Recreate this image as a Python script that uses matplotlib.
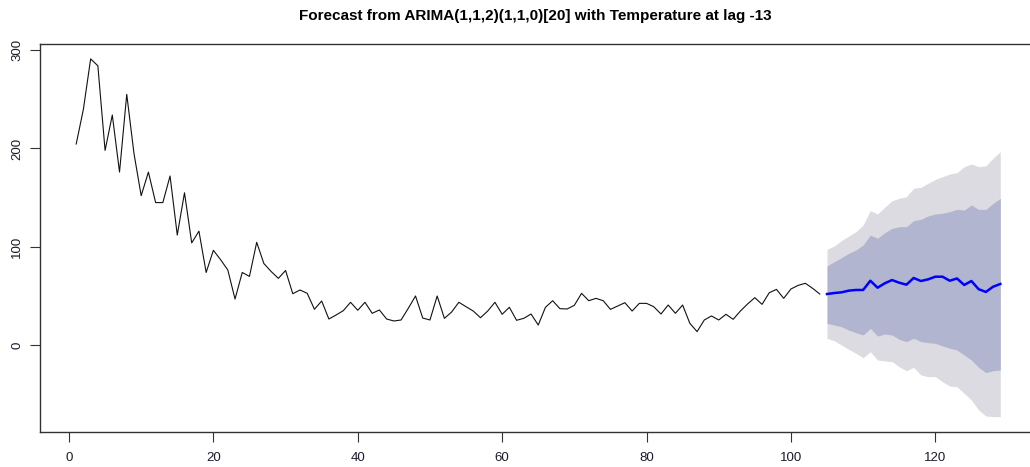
import numpy as np
import matplotlib
matplotlib.use("Agg")
import matplotlib.pyplot as plt

# Serie observada (t = 1..104)
observed = [204.5, 240, 291, 284, 198, 234, 176, 255, 195, 152,
            176, 145, 145, 172, 112, 155, 104, 116, 74, 96.5,
            87, 76.5, 47, 74, 70, 104.6, 83, 75, 68, 76,
            52.4, 56.2, 52.8, 36.6, 45, 26.7, 30.8, 35.2, 43.7, 35.6,
            43.7, 32.5, 35.9, 26.7, 24.7, 25.7, 37.6, 50.1, 27.7, 25.7,
            50.1, 27.4, 33.8, 43.7, 39.2, 34.8, 28, 34.8, 43.7, 31.5,
            38.6, 25.4, 27.4, 31.8, 20.6, 38.6, 45.3, 37.2, 36.9, 40.6,
            52.8, 45.3, 47.7, 45.3, 36.5, 39.9, 43.3, 34.8, 42.6, 42.6,
            39.2, 31.8, 40.9, 32.5, 40.9, 22.3, 13.9, 25.7, 29.8, 25.7,
            31.5, 26.4, 34.8, 42, 48.4, 41.6, 53.4, 56.8, 47.7, 57.2,
            60.9, 63, 57.9, 52.1]

# Pronóstico (t = 105..129)
fc_mean = [52.1, 53.1, 53.8, 55.5, 56.2, 56.2, 65.6, 58.5, 63, 66.3,
           63.6, 61.6, 68.4, 65.3, 67, 69.7, 69.7, 65.6, 67.9, 61.3,
           65.3, 57, 54.2, 59.5, 62.3]
hi80 = [80.6, 84.9, 89, 93.4, 96.8, 101.9, 112, 108.7, 114.4, 118.8,
        120.5, 120.5, 126.6, 128, 131.4, 133.4, 134.1, 135.8, 138.1, 137.4,
        142.5, 138.1, 138.1, 144.2, 149.3]
lo80 = [22.3, 20.6, 18.9, 15.5, 12.8, 10.5, 17.2, 9.4, 11.5, 10.5,
        6.1, 3.7, 7.1, 3.7, 2.7, 2, -0.7, -3, -4.8, -9.8,
        -14.9, -22.4, -27.8, -25.8, -25.1]
hi95 = [97.5, 100.9, 106.3, 111, 115.4, 122.2, 136.8, 133.4, 140.2, 146.9,
        149.3, 151, 159.5, 160.5, 164.6, 168.6, 171.3, 174, 175.4, 181.5,
        184.2, 181.5, 182.3, 190, 196.7]
lo95 = [7.1, 4.7, 0.3, -4.1, -8.1, -12.6, -6.5, -14.9, -15.9, -16.6,
        -21.7, -25.8, -22.4, -30.1, -31.9, -31.9, -37, -41.4, -42.1, -48.8,
        -55.6, -65.7, -71.8, -72.5, -72.5]

t_obs = np.arange(1, len(observed) + 1)
t_fc = np.arange(len(observed) + 1, len(observed) + len(fc_mean) + 1)

fig = plt.figure(figsize=(10.30, 4.67), dpi=100)
ax = fig.add_axes([0.0388, 0.0743, 0.9709, 0.8308])

ax.fill_between(t_fc, lo95, hi95, color="#DBDBE1", linewidth=0)
ax.fill_between(t_fc, lo80, hi80, color="#B1B5CF", linewidth=0)
ax.plot(t_obs, observed, color="#111111", linewidth=0.8)
ax.plot(t_fc, fc_mean, color="#0000FF", linewidth=1.8)

ax.set_xlim(-4.02, 134.5)
ax.set_ylim(-88.4, 305.8)
ax.set_xticks([0, 20, 40, 60, 80, 100, 120])
ax.set_yticks([0, 100, 200, 300])
ax.tick_params(axis="both", direction="out", length=7, width=0.8,
               colors="#333333", labelsize=9.5, labelcolor="#1a1a2a")
ax.tick_params(axis="x", pad=7)
ax.tick_params(axis="y", pad=5)
for lab in ax.get_xticklabels() + ax.get_yticklabels():
    lab.set_family("Liberation Sans")
for lab in ax.get_yticklabels():
    lab.set_rotation(90)
    lab.set_va("center")
for s in ax.spines.values():
    s.set_linewidth(1.0)
    s.set_color("#333333")

fig.text(0.52, 0.966, "Forecast from ARIMA(1,1,2)(1,1,0)[20] with Temperature at lag -13",
         ha="center", va="center", fontsize=11, fontweight="bold",
         family="Liberation Sans")

fig.savefig("out.png", dpi=100)
